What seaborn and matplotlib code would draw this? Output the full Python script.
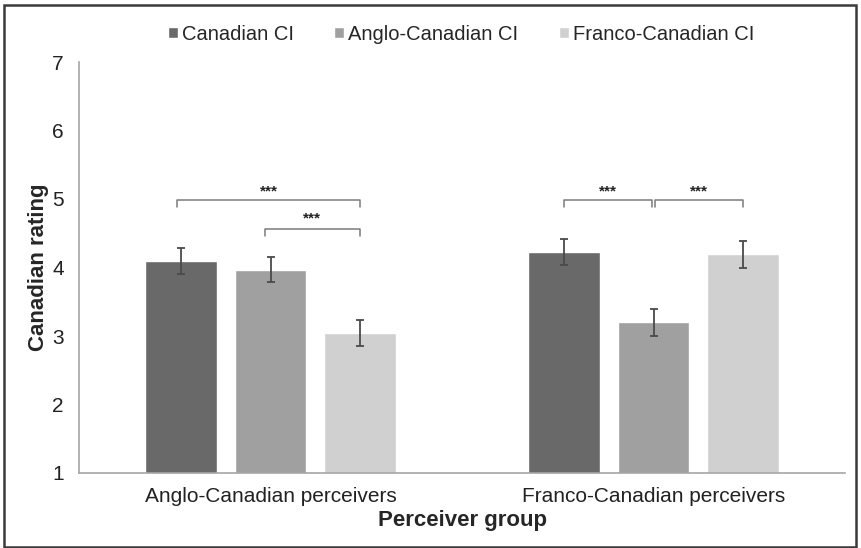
import numpy as np
import pandas as pd
import matplotlib
matplotlib.use("Agg")
import matplotlib.pyplot as plt
import seaborn as sns
from matplotlib.patches import Rectangle

# values
groups = ["Anglo-Canadian perceivers", "Franco-Canadian perceivers"]
ci_types = ["Canadian CI", "Anglo-Canadian CI", "Franco-Canadian CI"]
canadian_ci = [4.09, 4.23]
anglo_ci = [3.97, 3.20]
franco_ci = [3.04, 4.19]
canadian_err = [0.19, 0.19]
anglo_err = [0.18, 0.20]
franco_err = [0.19, 0.19]
colors = ["#696969", "#a0a0a0", "#d0d0d0"]

df = pd.DataFrame({
    "group": groups * 3,
    "ci": [c for c in ci_types for _ in groups],
    "rating": canadian_ci + anglo_ci + franco_ci,
})
errs = [canadian_err, anglo_err, franco_err]

sns.set_style("white")
plt.rcParams["font.family"] = ["Liberation Sans", "DejaVu Sans"]

fig = plt.figure(figsize=(8.61, 5.48), dpi=100)
ax = fig.add_axes([79 / 861, 1 - 473 / 548, (845 - 79) / 861, (473 - 62) / 548])

sns.barplot(data=df, x="group", y="rating", hue="ci", hue_order=ci_types,
            order=groups, palette=colors, errorbar=None, width=0.7, gap=0.2,
            saturation=1, ax=ax)

# error bars on each bar
centers = []
for cont, e in zip(ax.containers, errs):
    cx = [b.get_x() + b.get_width() / 2 for b in cont]
    cy = [b.get_height() for b in cont]
    centers.append(cx)
    ax.errorbar(cx, cy, yerr=e, fmt="none", ecolor="#4a4a4a", elinewidth=1.3,
                capsize=2.7, capthick=1.3)

ax.set_ylim(1, 7)
ax.set_xlim(-0.5, 1.5)
ax.set_yticks(range(1, 8))
ax.tick_params(axis="both", length=0, labelsize=15, colors="#222222")
ax.tick_params(axis="y", pad=11)
ax.tick_params(axis="x", pad=10)
for s in ["top", "right"]:
    ax.spines[s].set_visible(False)
for s in ["left", "bottom"]:
    ax.spines[s].set_color("#a6a6a6")
    ax.spines[s].set_linewidth(1.2)

ax.set_xlabel("Perceiver group", fontsize=16, fontweight="bold", labelpad=3)
ax.set_ylabel("Canadian rating", fontsize=16, fontweight="bold")
ax.yaxis.label.set_verticalalignment("center")
ax.yaxis.set_label_coords((39 - 79) / 766, 0.5)


def bracket(x0, x1, y, drop=0.1, label_y=None):
    ax.plot([x0, x0, x1, x1], [y - drop, y, y, y - drop], color="#7a7a7a", lw=1.1)
    ty = label_y if label_y is not None else y + 0.12
    ax.text((x0 + x1) / 2, ty, "***", ha="center", va="center", fontsize=11,
            fontweight="bold", color="#222222")


bracket(centers[0][0] - 0.01, centers[2][0], 4.99)
bracket(centers[1][0] - 0.015, centers[2][0], 4.56, label_y=4.72)
bracket(centers[0][1], centers[1][1] - 0.005, 4.99)
bracket(centers[1][1] + 0.005, centers[2][1], 4.99)

leg = ax.legend(loc="center", bbox_to_anchor=(461 / 861, 1 - 34 / 548),
                bbox_transform=fig.transFigure, ncol=3, frameon=False,
                fontsize=14.5, handlelength=0.5, handleheight=0.5,
                handletextpad=0.2, columnspacing=2.0)

fig.patches.append(Rectangle((4 / 861, 1 / 548), 852 / 861, 542 / 548,
                             transform=fig.transFigure, fill=False,
                             edgecolor="#3a3a3a", lw=1.8))

fig.savefig("out.png", dpi=100)
